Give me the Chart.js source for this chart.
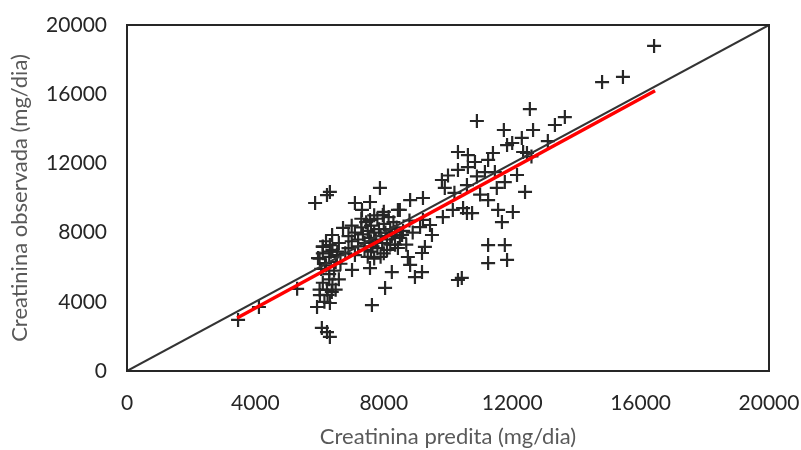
<!DOCTYPE html>
<html>
<head>
<meta charset="utf-8">
<script src="https://cdn.jsdelivr.net/npm/chart.js@4.4.0/dist/chart.umd.min.js"></script>
<style>
  html, body { margin: 0; padding: 0; background: #fff; }
  #wrap { width: 801px; height: 450px; }
</style>
</head>
<body>
<div id="wrap"><canvas id="chart-creatinina"></canvas></div>
<script>
// valores (mg/dia)
const predita = [
  3460, 4110, 5300, 5860, 6230, 6320, 7880, 7100, 7570, 7320, 8440, 6730, 6390, 7570, 7970, 8570,
  8440, 7010, 7570, 8250, 8750, 8820, 8970, 9190, 9190, 9280, 9500, 9130, 9220, 9220, 8500, 7630,
  8040, 6010, 6230, 5920, 6320, 6380, 6070, 6230, 6320, 6100, 6320, 5950, 6170, 6540,
  9810, 9900, 10590, 10900, 11460, 11520, 11770, 12400, 11250, 9840, 10150, 10470, 10590, 10750,
  11560, 12020, 11680, 11250, 11770, 11250, 11840, 10310, 10430,
  10310, 10620, 11400, 11250, 10840, 10310, 10620, 11150, 12150,
  10900, 11740, 12650, 13110, 12300, 11840, 12000, 12340, 12460, 12550, 13640, 13330, 14800, 15450, 16420,
  12600, 11000, 10000, 10200, 8820, 9440, 8350,
  7100, 7200, 7300, 7350, 7400, 7450, 7500, 7550, 7600, 7650, 7700, 7750, 7800, 7850, 7900, 7950,
  8000, 8050, 8100, 8150, 8200, 8250, 8300, 8350, 7400, 7600, 7800, 8000, 7200, 7000, 6900, 7500,
  7700, 7900, 8100, 7300, 7700, 8400, 8500, 8600, 8700, 8800, 8900, 7100, 6800, 6900, 7000, 8000,
  7600, 8200,
  6000, 6100, 6200, 6300, 6400, 6500, 6600, 6050, 6300, 6450, 6200, 6550, 6650, 6100, 6350,
  6000, 6100, 6250, 6400, 6150, 6500, 6600, 6300
];
const observada = [
  2950, 3700, 4750, 9710, 10170, 10350, 10580, 9710, 9770, 9310, 9310, 8270, 7860, 8730, 9020, 7860,
  7110, 5840, 5950, 5720, 6590, 6130, 5430, 5720, 6820, 7170, 7860, 8320, 8730, 10000, 9310, 3810,
  4800, 4390, 4690, 3700, 3930, 4570, 2490, 2250, 1970, 7170, 7280, 6530, 6240, 6700,
  11040, 10580, 10750, 11250, 11500, 10580, 10920, 10350, 9880, 8900, 9310, 9420, 9130, 9130,
  9310, 9190, 8610, 7280, 7280, 6240, 6420, 5260, 5380,
  12660, 12480, 12600, 12200, 12080, 11620, 11790, 11500, 11330,
  14450, 13930, 13930, 13290, 13470, 13060, 13180, 12660, 12600, 15140, 14680, 14220, 16700, 17000, 18790,
  12400, 10200, 11300, 10300, 9880, 8440, 8030,
  8000, 7600, 8300, 7900, 7400, 8600, 8100, 7700, 8400, 7200, 8000, 7600, 8800, 8200, 7800, 7400,
  8500, 8000, 7600, 8900, 8200, 7800, 8600, 7300, 7000, 6900, 7100, 6800, 7200, 7500, 7100, 6600,
  6500, 6600, 7000, 8800, 9000, 8300, 7700, 8100, 7300, 8700, 8000, 6700, 6800, 7800, 8400, 9200,
  7500, 7300,
  6500, 6800, 6100, 6600, 7000, 6300, 7400, 5900, 5600, 5800, 7500, 6900, 6200, 7200, 6900,
  4700, 5100, 4400, 5000, 4000, 4700, 5300, 5300
];
// linha 1:1 e reta de regressao
const linha11X = [0, 20000];
const linha11Y = [0, 20000];
const regressaoX = [3430, 16450];
const regressaoY = [3060, 16200];
const ticks = [0, 4000, 8000, 12000, 16000, 20000];

const pontos = predita.map(function (x, i) { return { x: x, y: observada[i] }; });
const linha11 = linha11X.map(function (x, i) { return { x: x, y: linha11Y[i] }; });
const regressao = regressaoX.map(function (x, i) { return { x: x, y: regressaoY[i] }; });

const fonteTicks = { family: "Lato, 'Open Sans', sans-serif", size: 21 };
const fonteTitulo = { family: "Lato, 'Open Sans', sans-serif", size: 22 };

const boxPlugin = {
  id: "box",
  afterDatasetsDraw: function (chart) {
    const a = chart.chartArea;
    const ctx = chart.ctx;
    ctx.save();
    ctx.strokeStyle = "#262626";
    ctx.lineWidth = 2;
    ctx.strokeRect(a.left, a.top, a.right - a.left, a.bottom - a.top);
    ctx.restore();
  }
};

new Chart(document.getElementById("chart-creatinina"), {
  type: "scatter",
  data: {
    datasets: [
      {
        label: "Observada",
        data: pontos,
        pointStyle: "cross",
        pointRadius: 7,
        pointBorderWidth: 2.2,
        borderColor: "#262626",
        backgroundColor: "#262626",
        order: 3
      },
      {
        label: "1:1",
        type: "line",
        data: linha11,
        borderColor: "#333333",
        borderWidth: 2,
        pointRadius: 0,
        fill: false,
        order: 2
      },
      {
        label: "Regressao",
        type: "line",
        data: regressao,
        borderColor: "#ff0000",
        borderWidth: 3.5,
        pointRadius: 0,
        fill: false,
        order: 1
      }
    ]
  },
  options: {
    responsive: true,
    maintainAspectRatio: false,
    animation: false,
    layout: { padding: { top: 25, right: 32, left: 0, bottom: 0 } },
    plugins: { legend: { display: false }, tooltip: { enabled: false } },
    scales: {
      x: {
        type: "linear",
        min: 0,
        max: 20000,
        afterBuildTicks: function (s) { s.ticks = ticks.map(function (v) { return { value: v }; }); },
        afterFit: function (s) { s.height = 79; s.paddingRight = 0; s.paddingLeft = 0; },
        grid: { display: false, drawTicks: false },
        border: { display: false },
        ticks: {
          color: "#262626", font: fonteTicks, padding: 20, maxRotation: 0,
          callback: function (v) { return String(v); }
        },
        title: {
          display: true,
          text: "Creatinina predita (mg/dia)",
          color: "#595959",
          font: fonteTitulo,
          padding: { top: 6, bottom: 0 }
        }
      },
      y: {
        type: "linear",
        min: 0,
        max: 20000,
        afterBuildTicks: function (s) { s.ticks = ticks.map(function (v) { return { value: v }; }); },
        afterFit: function (s) { s.width = 127; s.paddingTop = 0; s.paddingBottom = 0; },
        grid: { display: false, drawTicks: false },
        border: { display: false },
        ticks: {
          color: "#262626", font: fonteTicks, padding: 20,
          callback: function (v) { return String(v); }
        },
        title: {
          display: true,
          text: "Creatinina observada (mg/dia)",
          color: "#595959",
          font: fonteTitulo,
          padding: { top: 7, bottom: 0 }
        }
      }
    }
  },
  plugins: [boxPlugin]
});
</script>
</body>
</html>
